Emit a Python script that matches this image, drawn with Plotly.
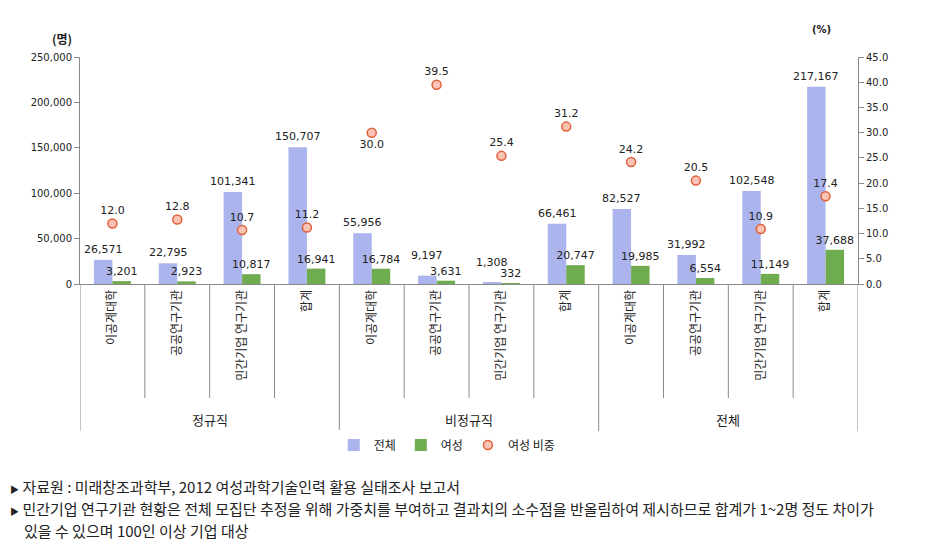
import plotly.graph_objects as go

categories = ["이공계대학", "공공연구기관", "민간기업 연구기관", "합계",
              "이공계대학", "공공연구기관", "민간기업 연구기관", "합계",
              "이공계대학", "공공연구기관", "민간기업 연구기관", "합계"]
groups = ["정규직", "비정규직", "전체"]
total = [26571, 22795, 101341, 150707, 55956, 9197, 1308, 66461, 82527, 31992, 102548, 217167]
female = [3201, 2923, 10817, 16941, 16784, 3631, 332, 20747, 19985, 6554, 11149, 37688]
share = [12.0, 12.8, 10.7, 11.2, 30.0, 39.5, 25.4, 31.2, 24.2, 20.5, 10.9, 17.4]
footnotes = [
    "자료원 : 미래창조과학부, 2012 여성과학기술인력 활용 실태조사 보고서",
    "민간기업 연구기관 현황은 전체 모집단 추정을 위해 가중치를 부여하고 결과치의 소수점을 반올림하여 제시하므로 합계가 1~2명 정도 차이가",
    "있을 수 있으며 100인 이상 기업 대상",
]

x = list(range(len(categories)))
num_font = dict(family="DejaVu Sans", size=11, color="#222")
bargap = 0.43
half_offset = (1 - bargap) / 4  # centre offset of each bar in a pair

fig = go.Figure()
fig.add_trace(go.Bar(
    x=x, y=total, name="전체", marker=dict(color="#abb4ec", line=dict(width=0)),
    cliponaxis=False,
))
fig.add_trace(go.Bar(
    x=x, y=female, name="여성", marker=dict(color="#6fab4f", line=dict(width=0)),
    text=[f"{v:,}" for v in female], textposition="outside", textfont=num_font,
    constraintext="none", cliponaxis=False,
))
pos = ["bottom center" if v == 30.0 else "top center" for v in share]
fig.add_trace(go.Scatter(
    x=x, y=share, name="여성 비중", yaxis="y2", mode="markers+text",
    marker=dict(symbol="circle", size=9, color="#fbc3b3", line=dict(color="#e0603c", width=1.5)),
    text=[f"{v:.1f}" for v in share], textposition=pos, textfont=num_font,
    cliponaxis=False,
))

annotations = []
# 전체 labels: lifted a bit more when the pair of bars is too short to separate the labels
for i, v in enumerate(total):
    lift = 12 if v < 15000 else 2
    annotations.append(dict(x=i - half_offset, y=v, xref="x", yref="y", text=f"{v:,}",
                            showarrow=False, yanchor="bottom", yshift=lift, font=num_font))

shapes = []
group_size = 4
for i in range(len(categories) + 1):
    is_group = i % group_size == 0
    shapes.append(dict(type="line", xref="x", yref="paper", x0=i - 0.5, x1=i - 0.5,
                       y0=0, y1=-0.648 if is_group else -0.502,
                       line=dict(color="#8a8a8a", width=1)))

for g, name in enumerate(groups):
    annotations.append(dict(x=g * group_size + (group_size - 1) / 2, y=-0.595, xref="x", yref="paper",
                            text=name, showarrow=False, yanchor="middle",
                            font=dict(family="Noto Sans CJK KR", size=13, color="#222")))
annotations.append(dict(x=-0.0386, y=1.128, xref="paper", yref="paper", text="<b>(명)</b>",
                        showarrow=False, font=dict(family="Noto Sans CJK KR", size=12, color="#222")))
annotations.append(dict(x=0.968, y=1.154, xref="paper", yref="paper", text="<b>(%)</b>",
                        showarrow=False, font=dict(family="DejaVu Sans", size=10, color="#222")))
for k, (t, yy) in enumerate(zip(footnotes, [-0.894, -0.991, -1.088])):
    prefix = '<span style="font-size:9px">▶</span> ' if k < 2 else ""
    annotations.append(dict(x=-0.0925 if k < 2 else -0.0745, y=yy, xref="paper", yref="paper",
                            text=prefix + t, showarrow=False, xanchor="left", yanchor="middle",
                            font=dict(family="Noto Sans CJK KR", size=15, color="#222")))

fig.update_layout(
    width=933, height=554, margin=dict(l=80, r=75, t=57, b=270, autoexpand=False),
    paper_bgcolor="white", plot_bgcolor="white",
    barmode="group", bargap=bargap, bargroupgap=0,
    showlegend=True,
    legend=dict(orientation="h", x=0.472, xanchor="center", y=-0.709, yanchor="middle",
                font=dict(family="Noto Sans CJK KR", size=12, color="#222"), itemwidth=30,
                tracegroupgap=0),
    xaxis=dict(range=[-0.5, len(categories) - 0.5], tickvals=x, ticktext=categories,
               tickangle=-90, showline=True, linecolor="#8a8a8a", ticks="", showgrid=False,
               tickfont=dict(family="Noto Sans CJK KR", size=12, color="#222"), zeroline=False),
    yaxis=dict(range=[0, 250000], dtick=50000, tickformat=",", showline=True, linecolor="#8a8a8a",
               ticks="outside", ticklen=5, tickcolor="#8a8a8a", showgrid=False, zeroline=False,
               tickfont=dict(family="DejaVu Sans", size=10, color="#222")),
    yaxis2=dict(range=[0, 45], dtick=5, tickformat=".1f", overlaying="y", side="right",
                showline=True, linecolor="#8a8a8a", ticks="outside", ticklen=5, tickcolor="#8a8a8a",
                showgrid=False, zeroline=False,
                tickfont=dict(family="DejaVu Sans", size=10, color="#222")),
    shapes=shapes, annotations=annotations,
)
fig.write_html("out.html", config={"displayModeBar": False},
               post_script="document.body.style.margin='0px';document.body.style.overflow='hidden';")
